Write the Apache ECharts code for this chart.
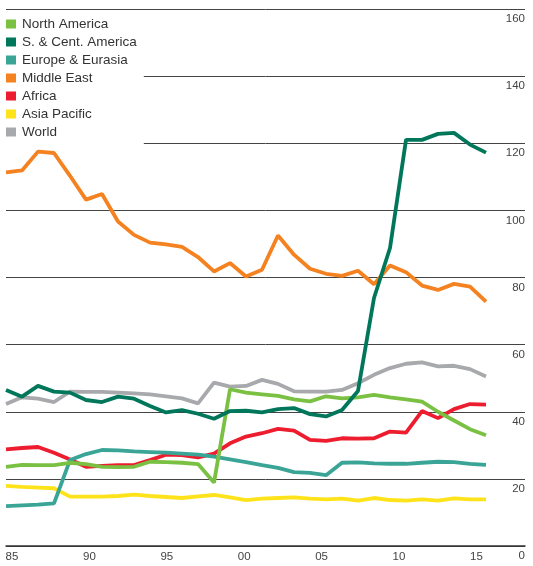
<!DOCTYPE html>
<html><head><meta charset="utf-8">
<script src="https://cdn.jsdelivr.net/npm/echarts@6/dist/echarts.min.js"></script>
<style>html,body{margin:0;padding:0;background:#fff}#c{width:533px;height:566px}</style>
</head><body><div id="c"></div>
<script>
var years = [1985,1986,1987,1988,1989,1990,1991,1992,1993,1994,1995,1996,1997,1998,1999,2000,2001,2002,2003,2004,2005,2006,2007,2008,2009,2010,2011,2012,2013,2014,2015];
var northAmerica = [23.6,24.2,24.1,24.1,24.8,24.4,23.6,23.5,23.6,25.1,25.0,24.8,24.4,18.9,46.7,45.7,45.2,44.7,43.7,43.1,44.6,44.0,44.3,45.0,44.3,43.7,43.0,40.0,37.4,34.8,33.0];
var scAmerica = [46.5,44.5,47.7,46.0,45.7,43.5,42.9,44.5,43.9,41.7,39.8,40.5,39.4,37.9,40.2,40.3,39.8,40.8,41.1,39.3,38.6,40.5,46.2,73.9,88.8,121.0,121.0,122.8,123.1,119.6,117.2];
var europeEurasia = [11.9,12.1,12.3,12.7,25.6,27.4,28.6,28.5,28.2,28.0,27.8,27.5,27.2,26.6,25.8,25.0,24.1,23.3,22.0,21.8,21.1,24.8,24.9,24.6,24.5,24.5,24.8,25.1,25.0,24.5,24.2];
var middleEast = [111.3,111.9,117.5,117.1,110.3,103.2,104.9,96.7,92.7,90.4,89.9,89.1,86.1,81.8,84.3,80.3,82.3,92.5,86.8,82.6,81.1,80.5,82.0,78.0,83.6,81.6,77.6,76.3,78.1,77.3,72.8];
var africa = [28.8,29.2,29.5,27.8,25.8,23.6,23.9,24.1,24.1,25.6,27.2,27.1,26.4,27.5,30.6,32.6,33.6,34.9,34.4,31.6,31.3,32.1,32.0,32.1,34.1,33.8,40.2,38.1,40.8,42.3,42.1];
var asiaPacific = [17.9,17.6,17.4,17.2,14.7,14.7,14.7,14.9,15.3,14.9,14.6,14.3,14.8,15.2,14.5,13.7,14.1,14.3,14.5,14.1,13.9,14.1,13.5,14.3,13.7,13.5,13.9,13.5,14.2,13.9,13.9];
var world = [42.3,44.3,43.9,42.9,46.0,45.9,45.9,45.7,45.5,45.2,44.6,44.0,42.5,48.7,47.5,47.7,49.5,48.3,46.1,46.0,46.0,46.5,48.5,51.0,53.0,54.3,54.7,53.5,53.7,52.7,50.5];
var xTickLabels = [1985,1990,1995,2000,2005,2010,2015];
var legendNames = ['North America','S. & Cent. America','Europe & Eurasia','Middle East','Africa','Asia Pacific','World'];

function pairs(v){ return years.map(function(y,i){ return [y, v[i]]; }); }
var colors = {
  'North America':'#7ac143',
  'S. & Cent. America':'#00775a',
  'Europe & Eurasia':'#3aa597',
  'Middle East':'#f58220',
  'Africa':'#ed1c2e',
  'Asia Pacific':'#ffe31a',
  'World':'#a7a9ac'
};
var seriesData = {
  'North America':northAmerica,
  'S. & Cent. America':scAmerica,
  'Europe & Eurasia':europeEurasia,
  'Middle East':middleEast,
  'Africa':africa,
  'Asia Pacific':asiaPacific,
  'World':world
};
var drawOrder = ['World','Asia Pacific','Africa','Middle East','Europe & Eurasia','North America','S. & Cent. America'];

var chart = echarts.init(document.getElementById('c'), null, {renderer:'canvas'});
chart.setOption({
  animation:false,
  backgroundColor:'#fff',
  textStyle:{fontFamily:'Liberation Sans, Arial, sans-serif'},
  grid:{left:6, right:8, top:9, bottom:20, containLabel:false},
  legend:{
    data:legendNames,
    orient:'vertical',
    left:0, top:11,
    padding:[4,7,6,6],
    backgroundColor:'#fff',
    itemGap:0,
    itemWidth:10, itemHeight:9,
    icon:'rect',
    selectedMode:false,
    textStyle:{fontSize:13.5, color:'#333', lineHeight:18, padding:[0,0,0,1]}
  },
  xAxis:[{
    type:'value', min:1985, max:1985+519/16,
    position:'bottom',
    axisLine:{show:true, lineStyle:{color:'#333', width:1.5}},
    axisTick:{show:false}, axisLabel:{show:false}, splitLine:{show:false}
  },{
    type:'value', min:1985-6/15.48, max:1985+513/15.48,
    position:'bottom',
    axisLine:{show:false}, axisTick:{show:false}, splitLine:{show:false},
    axisLabel:{show:true, customValues:xTickLabels, color:'#444', fontSize:11.5, margin:5,
      formatter:function(v){ var s=String(Math.round(v)%100); return s.length<2?'0'+s:s; }}
  }],
  yAxis:{
    type:'value', min:0, max:160, interval:20, position:'right',
    axisLine:{show:false}, axisTick:{show:false},
    axisLabel:{inside:true, margin:0, color:'#444', fontSize:11.5, verticalAlign:'top', padding:[4,0,0,0]},
    splitLine:{show:true, lineStyle:{color:'#444', width:1}}
  },
  series: drawOrder.map(function(n){
    return {name:n, type:'line', xAxisIndex:0, data:pairs(seriesData[n]), symbol:'none',
      itemStyle:{color:colors[n]}, lineStyle:{color:colors[n], width:3.8}};
  })
});
</script></body></html>
